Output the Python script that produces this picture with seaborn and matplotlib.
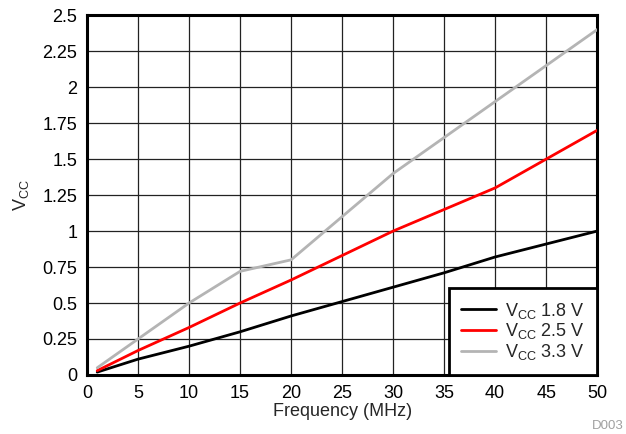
import matplotlib
matplotlib.use("Agg")
import matplotlib.pyplot as plt
import seaborn as sns
import pandas as pd

freq = [1, 5, 10, 15, 20, 25, 30, 35, 40, 45, 50]
vcc_18 = [0.02, 0.11, 0.20, 0.30, 0.41, 0.51, 0.61, 0.71, 0.82, 0.91, 1.00]
vcc_25 = [0.03, 0.17, 0.33, 0.50, 0.66, 0.83, 1.00, 1.15, 1.30, 1.50, 1.70]
vcc_33 = [0.05, 0.25, 0.50, 0.72, 0.80, 1.10, 1.40, 1.65, 1.90, 2.15, 2.40]
series_labels = [r"V$_{\mathregular{CC}}$ 1.8 V", r"V$_{\mathregular{CC}}$ 2.5 V", r"V$_{\mathregular{CC}}$ 3.3 V"]
colors = ["#000000", "#ff0000", "#b4b4b4"]
x_ticks = list(range(0, 55, 5))
y_ticks = [0, 0.25, 0.5, 0.75, 1, 1.25, 1.5, 1.75, 2, 2.25, 2.5]
y_tick_labels = ["0", "0.25", "0.5", "0.75", "1", "1.25", "1.5", "1.75", "2", "2.25", "2.5"]

sns.set_style("white")
plt.rcParams["font.family"] = ["Liberation Sans", "DejaVu Sans"]
plt.rcParams["mathtext.fontset"] = "custom"
plt.rcParams["mathtext.rm"] = "Liberation Sans"
plt.rcParams["mathtext.it"] = "Liberation Sans"

rows = []
for lab, vals in zip(series_labels, [vcc_18, vcc_25, vcc_33]):
    for f, v in zip(freq, vals):
        rows.append({"Frequency": f, "V": v, "Series": lab})
df = pd.DataFrame(rows)

FS = 13

fig = plt.figure(figsize=(6.26, 4.34), dpi=100)
ax = fig.add_axes([0.139, 0.136, 0.815, 0.829])
sns.lineplot(data=df, x="Frequency", y="V", hue="Series", palette=colors,
             hue_order=series_labels, linewidth=2, ax=ax, zorder=3)

ax.set_xlim(0, 50)
ax.set_ylim(0, 2.5)
ax.set_xticks(x_ticks)
ax.set_yticks(y_ticks)
ax.set_yticklabels(y_tick_labels)
ax.grid(True, color="#222222", linewidth=0.9)
ax.tick_params(axis="both", length=0, labelsize=FS, pad=7, colors="#000000")
for s in ax.spines.values():
    s.set_color("black")
    s.set_linewidth(2.2)
ax.set_xlabel("Frequency (MHz)", fontsize=FS, labelpad=1)
ax.set_ylabel(r"V$_{\mathregular{CC}}$", fontsize=FS, labelpad=8)

leg = ax.legend(loc="lower right", fontsize=FS, frameon=True, fancybox=False,
                borderaxespad=0, handlelength=1.9, labelspacing=0.05,
                borderpad=0.7, handletextpad=0.5)
leg.get_frame().set_edgecolor("black")
leg.get_frame().set_linewidth(2)
leg.get_frame().set_alpha(1)

fig.text(0.997, 0.004, "D003", ha="right", va="bottom", fontsize=9.5, color="#a0a0a0")

fig.savefig("out.png", dpi=100)
